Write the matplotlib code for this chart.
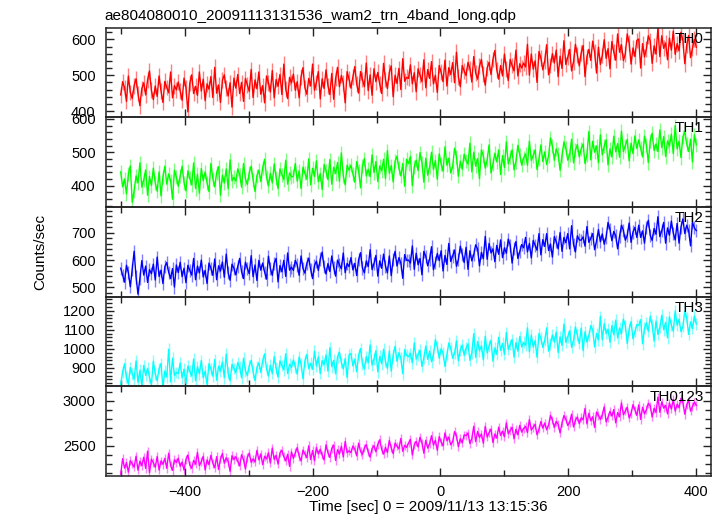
import numpy as np
import matplotlib
matplotlib.use("Agg")
import matplotlib.pyplot as plt
from matplotlib.ticker import MultipleLocator

plt.rcParams['font.family'] = ['Liberation Sans', 'DejaVu Sans']

# ---------------- data (3 s samples) ----------------
time_sec = np.arange(-500, 401, 3)

th0 = [
    445, 482, 465, 427, 498, 452, 435, 471, 490, 449,
    415, 463, 479, 445, 487, 512, 458, 432, 470, 441,
    498, 456, 424, 483, 466, 451, 509, 437, 471, 459,
    481, 456, 430, 492, 465, 398, 478, 501, 449, 469,
    444, 509, 456, 489, 429, 476, 461, 496, 438, 522,
    450, 473, 424, 486, 501, 465, 442, 479, 411, 492,
    464, 502, 449, 480, 427, 491, 473, 455, 516, 438,
    487, 462, 509, 447, 471, 423, 498, 479, 453, 513,
    437, 488, 469, 502, 446, 531, 462, 435, 494, 479,
    503, 458, 482, 437, 496, 521, 465, 447, 491, 470,
    531, 458, 480, 510, 434, 490, 463, 515, 471, 446,
    505, 433, 491, 522, 468, 499, 479, 423, 510, 489,
    464, 495, 524, 475, 450, 510, 488, 468, 534, 457,
    501, 444, 518, 482, 508, 475, 449, 533, 488, 463,
    508, 526, 440, 500, 477, 519, 460, 546, 483, 494,
    491, 529, 476, 507, 454, 518, 500, 482, 543, 465,
    516, 491, 538, 476, 500, 452, 527, 508, 482, 542,
    470, 521, 502, 535, 479, 564, 495, 468, 527, 512,
    499, 536, 519, 481, 552, 506, 489, 525, 544, 503,
    472, 520, 536, 502, 544, 569, 515, 489, 527, 498,
    559, 517, 485, 544, 527, 512, 570, 498, 532, 520,
    534, 523, 586, 500, 559, 517, 540, 480, 566, 548,
    515, 540, 585, 501, 527, 560, 534, 570, 496, 553,
    519, 596, 530, 550, 572, 512, 537, 586, 557, 526,
    562, 583, 496, 552, 572, 541, 595, 564, 506, 578,
    530, 555, 599, 547, 574, 518, 594, 564, 542, 615,
    564, 585, 541, 559, 615, 590, 531, 576, 552, 597,
    601, 520, 588, 551, 574, 610, 595, 533, 582, 559,
    632, 552, 610, 575, 590, 543, 603, 570, 623, 558,
    588, 568, 620, 597, 532, 584, 611, 549, 575, 600,
    578]

th1 = [
    441, 396, 420, 375, 434, 459, 350, 385, 429, 408,
    468, 395, 417, 447, 371, 427, 400, 452, 408, 383,
    441, 369, 427, 458, 404, 435, 415, 359, 446, 425,
    398, 429, 458, 409, 384, 444, 422, 402, 468, 391,
    434, 377, 451, 415, 441, 408, 382, 466, 421, 396,
    439, 457, 371, 431, 408, 450, 391, 477, 414, 425,
    413, 450, 433, 395, 466, 420, 403, 439, 458, 417,
    382, 430, 446, 412, 454, 479, 425, 399, 437, 408,
    465, 423, 391, 450, 433, 418, 476, 404, 438, 426,
    428, 466, 413, 444, 391, 455, 437, 419, 480, 402,
    452, 427, 474, 412, 436, 388, 463, 444, 418, 478,
    404, 455, 436, 469, 413, 498, 429, 402, 461, 446,
    461, 436, 410, 472, 445, 393, 458, 481, 429, 449,
    427, 492, 439, 472, 412, 459, 444, 479, 421, 505,
    437, 460, 411, 473, 488, 452, 429, 466, 398, 479,
    466, 487, 400, 456, 476, 445, 499, 468, 410, 482,
    431, 456, 500, 448, 475, 419, 495, 465, 443, 516,
    461, 482, 438, 456, 512, 487, 428, 473, 449, 494,
    475, 464, 527, 441, 500, 458, 481, 421, 507, 489,
    452, 477, 522, 438, 464, 497, 471, 507, 433, 490,
    454, 531, 465, 485, 507, 447, 472, 521, 492, 461,
    483, 495, 461, 533, 475, 490, 507, 448, 480, 522,
    472, 501, 463, 489, 543, 518, 476, 510, 494, 446,
    490, 531, 512, 476, 493, 539, 468, 506, 523, 486,
    510, 525, 466, 493, 562, 477, 533, 500, 519, 468,
    552, 492, 518, 537, 462, 510, 486, 548, 501, 526,
    485, 563, 502, 520, 538, 474, 527, 496, 549, 511,
    537, 512, 486, 548, 521, 469, 534, 557, 505, 525,
    502, 567, 514, 547, 487, 534, 519, 554, 496, 580,
    510, 533, 484, 546, 561, 525, 502, 539, 471, 552,
    522]

th2 = [
    570, 545, 519, 581, 554, 502, 567, 632, 538, 475,
    533, 598, 545, 578, 518, 565, 550, 585, 527, 611,
    540, 563, 514, 576, 591, 555, 532, 569, 501, 582,
    554, 592, 539, 570, 517, 581, 563, 545, 606, 528,
    578, 553, 600, 538, 562, 514, 589, 570, 544, 604,
    528, 579, 560, 593, 537, 622, 553, 526, 585, 570,
    546, 577, 606, 557, 532, 592, 570, 550, 616, 539,
    582, 525, 599, 563, 589, 556, 530, 614, 569, 544,
    588, 606, 520, 580, 557, 599, 540, 626, 563, 574,
    562, 599, 582, 544, 615, 569, 552, 588, 607, 566,
    532, 580, 596, 562, 604, 629, 575, 549, 587, 558,
    615, 573, 541, 600, 583, 568, 626, 554, 588, 576,
    609, 564, 588, 543, 602, 627, 571, 553, 597, 576,
    638, 565, 587, 617, 541, 597, 570, 622, 578, 553,
    615, 543, 601, 632, 578, 609, 589, 533, 620, 599,
    600, 589, 652, 566, 625, 583, 606, 546, 632, 614,
    579, 604, 649, 565, 591, 624, 598, 634, 560, 617,
    584, 661, 595, 615, 637, 577, 602, 651, 622, 591,
    647, 566, 634, 597, 620, 656, 641, 579, 628, 605,
    687, 603, 661, 626, 641, 594, 654, 621, 674, 609,
    645, 625, 677, 654, 589, 641, 668, 606, 632, 657,
    645, 683, 630, 661, 608, 672, 654, 636, 697, 619,
    675, 650, 697, 635, 659, 611, 686, 667, 641, 701,
    632, 683, 664, 697, 641, 726, 657, 630, 689, 674,
    673, 685, 651, 723, 665, 680, 697, 638, 670, 712,
    667, 696, 658, 684, 738, 713, 671, 705, 689, 641,
    687, 728, 709, 673, 690, 736, 665, 703, 720, 683,
    728, 683, 707, 662, 721, 746, 690, 672, 716, 695,
    759, 686, 708, 738, 662, 718, 691, 743, 699, 674,
    734, 662, 720, 751, 697, 728, 708, 652, 739, 718,
    708]

th3 = [
    815, 880, 922, 851, 815, 902, 870, 841, 937, 825,
    888, 806, 913, 861, 898, 851, 813, 935, 869, 833,
    897, 923, 798, 885, 852, 998, 827, 952, 860, 876,
    871, 926, 849, 894, 818, 910, 884, 858, 947, 833,
    907, 870, 939, 849, 883, 814, 923, 895, 857, 944,
    836, 910, 883, 931, 849, 973, 872, 833, 919, 897,
    875, 928, 904, 848, 951, 885, 860, 912, 940, 880,
    834, 903, 927, 877, 938, 974, 896, 858, 914, 871,
    959, 898, 852, 937, 913, 891, 975, 871, 920, 903,
    942, 906, 868, 958, 919, 843, 938, 971, 896, 925,
    893, 987, 910, 958, 871, 939, 917, 968, 884, 1006,
    907, 940, 869, 959, 981, 929, 895, 949, 850, 968,
    976, 911, 946, 880, 966, 1002, 921, 895, 959, 928,
    1021, 915, 947, 990, 880, 961, 922, 998, 934, 898,
    989, 884, 969, 1013, 935, 980, 951, 870, 996, 966,
    959, 976, 927, 1031, 947, 969, 993, 908, 954, 1015,
    945, 988, 932, 970, 1048, 1012, 951, 1001, 977, 908,
    971, 1031, 1003, 951, 976, 1042, 939, 995, 1019, 966,
    1004, 1026, 940, 979, 1080, 956, 1038, 990, 1017, 943,
    1066, 979, 1017, 1045, 936, 1005, 971, 1061, 992, 1029,
    972, 1086, 997, 1023, 1049, 957, 1033, 988, 1065, 1010,
    1034, 1018, 1110, 985, 1071, 1010, 1043, 956, 1081, 1055,
    1008, 1044, 1110, 988, 1026, 1073, 1036, 1088, 981, 1063,
    1018, 1130, 1034, 1063, 1095, 1008, 1044, 1115, 1073, 1028,
    1109, 991, 1090, 1036, 1070, 1122, 1100, 1010, 1081, 1048,
    1170, 1048, 1132, 1081, 1103, 1035, 1122, 1074, 1151, 1057,
    1110, 1081, 1156, 1123, 1028, 1104, 1143, 1053, 1091, 1127,
    1123, 1153, 1027, 1108, 1137, 1092, 1170, 1126, 1041, 1146,
    1076, 1112, 1176, 1100, 1139, 1058, 1168, 1125, 1093, 1199,
    1124, 1155, 1091, 1117, 1198, 1162, 1076, 1142, 1107, 1172,
    1130]

th0123 = [
    2185, 2356, 2250, 2312, 2206, 2334, 2298, 2262, 2384, 2228,
    2328, 2278, 2372, 2248, 2440, 2200, 2350, 2312, 2260, 2380,
    2230, 2332, 2294, 2360, 2248, 2418, 2280, 2226, 2344, 2314,
    2361, 2271, 2319, 2229, 2347, 2397, 2285, 2249, 2337, 2295,
    2425, 2279, 2323, 2383, 2231, 2343, 2289, 2393, 2305, 2255,
    2379, 2235, 2351, 2413, 2305, 2367, 2327, 2215, 2389, 2347,
    2378, 2328, 2276, 2400, 2346, 2242, 2372, 2418, 2314, 2354,
    2319, 2449, 2343, 2409, 2289, 2383, 2353, 2423, 2307, 2475,
    2348, 2394, 2296, 2420, 2450, 2378, 2332, 2406, 2270, 2432,
    2360, 2422, 2480, 2382, 2332, 2452, 2408, 2368, 2500, 2346,
    2447, 2333, 2481, 2409, 2461, 2395, 2343, 2511, 2421, 2371,
    2472, 2508, 2336, 2456, 2410, 2494, 2376, 2548, 2422, 2444,
    2423, 2497, 2463, 2387, 2529, 2437, 2403, 2475, 2513, 2431,
    2373, 2469, 2501, 2433, 2517, 2567, 2459, 2407, 2483, 2425,
    2560, 2476, 2412, 2530, 2496, 2466, 2582, 2438, 2506, 2482,
    2529, 2571, 2397, 2509, 2549, 2487, 2595, 2533, 2417, 2561,
    2474, 2524, 2612, 2508, 2562, 2450, 2602, 2542, 2498, 2644,
    2556, 2598, 2510, 2546, 2658, 2608, 2490, 2580, 2532, 2622,
    2613, 2643, 2525, 2579, 2717, 2547, 2659, 2593, 2631, 2529,
    2716, 2596, 2648, 2686, 2536, 2632, 2584, 2708, 2614, 2664,
    2600, 2756, 2634, 2670, 2706, 2578, 2684, 2622, 2728, 2652,
    2692, 2716, 2648, 2792, 2676, 2706, 2740, 2622, 2686, 2770,
    2696, 2754, 2678, 2730, 2838, 2788, 2704, 2772, 2740, 2644,
    2754, 2836, 2798, 2726, 2760, 2852, 2710, 2786, 2820, 2746,
    2812, 2790, 2916, 2744, 2862, 2778, 2824, 2704, 2876, 2840,
    2794, 2844, 2934, 2766, 2818, 2884, 2832, 2904, 2756, 2870,
    2824, 2978, 2846, 2886, 2930, 2810, 2860, 2958, 2900, 2838,
    2956, 2794, 2930, 2856, 2902, 2974, 2944, 2820, 2918, 2872,
    3042, 2874, 2990, 2920, 2950, 2856, 2976, 2910, 3016, 2886,
    2964, 2924, 3028, 2982, 2852, 2956, 3010, 2886, 2938, 2988,
    2950]

panel_names = ['TH0', 'TH1', 'TH2', 'TH3', 'TH0123']
count_errors = [22, 21, 24, 31, 48]
series = [th0, th1, th2, th3, th0123]

title = 'ae804080010_20091113131536_wam2_trn_4band_long.qdp'
xlabel = 'Time [sec] 0 = 2009/11/13 13:15:36'
ylabel = 'Counts/sec'

# ---------------- style ----------------
colors = ['#ff0000', '#00ff00', '#0000ff', '#00ffff', '#ff00ff']
ylims = [(383, 633), (336, 605), (466, 795), (804, 1274), (2163, 3163)]
ymajor = [100, 100, 100, 100, 500]
yminor = [20, 20, 20, 20, 100]
xlim = (-523, 423)

W, H = 723, 516
fig = plt.figure(figsize=(W / 100, H / 100), dpi=100)
left_px, right_px = 106, 711
top_px, bot_px = 27.5, 476
ph = (bot_px - top_px) / 5
spine_col = '#222222'

for i in range(5):
    y0 = 1 - (top_px + (i + 1) * ph) / H
    ax = fig.add_axes([left_px / W, y0, (right_px - left_px) / W, ph / H])
    ax.errorbar(time_sec, series[i], yerr=count_errors[i], fmt='none',
                ecolor=colors[i], alpha=0.5, elinewidth=1.0, capsize=0)
    ax.plot(time_sec, series[i], color=colors[i], lw=1.0)
    ax.set_xlim(*xlim)
    ax.set_ylim(*ylims[i])
    ax.xaxis.set_major_locator(MultipleLocator(200))
    ax.xaxis.set_minor_locator(MultipleLocator(100))
    ax.yaxis.set_major_locator(MultipleLocator(ymajor[i]))
    ax.yaxis.set_minor_locator(MultipleLocator(yminor[i]))
    ax.tick_params(which='both', direction='in', top=True, right=True,
                   color=spine_col, width=1.0, labelsize=10.5)
    ax.tick_params(which='major', length=6)
    ax.tick_params(which='minor', length=4)
    ax.tick_params(axis='y', pad=7.5)
    ax.tick_params(axis='x', pad=6.5)
    for s in ax.spines.values():
        s.set_color(spine_col)
        s.set_linewidth(1.1)
    if i < 4:
        ax.tick_params(labelbottom=False)
    ax.text(0.988, 0.955, panel_names[i], transform=ax.transAxes,
            ha='right', va='top', fontsize=11, color='black', zorder=10)
    ax.patch.set_alpha(0)

fig.text(104 / W, 1 - 20 / H, title, ha='left', va='baseline', fontsize=11)
fig.text(428 / W, 1 - 507 / H, xlabel, ha='center', va='center', fontsize=11)
fig.text(40 / W, 1 - 252 / H, ylabel, ha='center', va='center', rotation=90, fontsize=11)

fig.savefig('out.png', dpi=100)
